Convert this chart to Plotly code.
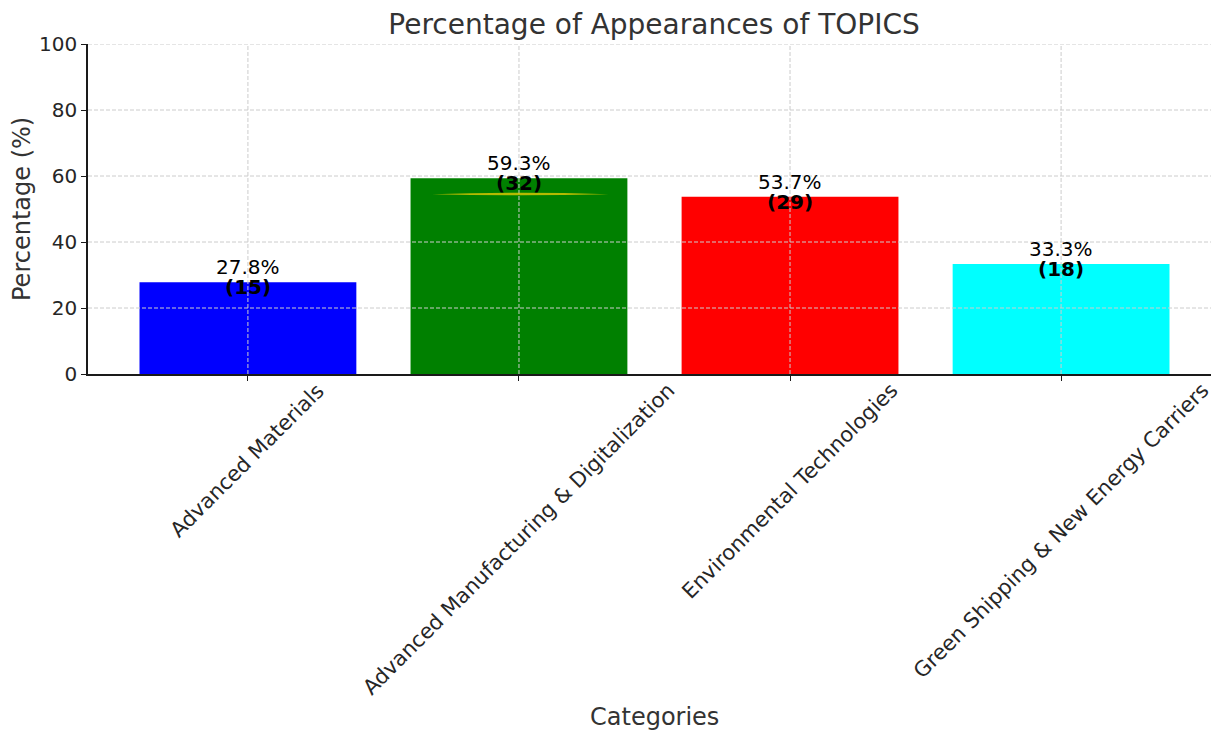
import plotly.graph_objects as go

categories = ["Advanced Materials", "Advanced Manufacturing & Digitalization",
              "Environmental Technologies", "Green Shipping & New Energy Carriers"]
percentages = [27.8, 59.3, 53.7, 33.3]
counts = [15, 32, 29, 18]
colors = ["#0000ff", "#008000", "#ff0000", "#00ffff"]
y_ticks = [0, 20, 40, 60, 80, 100]

FONT = "DejaVu Sans"
TXT = "#262626"
GRID = "#cccccc"

x_idx = list(range(len(categories)))

fig = go.Figure()
fig.add_trace(go.Bar(x=x_idx, y=percentages, width=0.8,
                     marker=dict(color=colors, line=dict(width=0)),
                     hoverinfo="skip", showlegend=False))

shapes = []
# grid lines drawn above bars (like the reference)
for t in y_ticks[1:]:
    shapes.append(dict(type="line", xref="paper", yref="y", x0=0, x1=1, y0=t, y1=t,
                       line=dict(color=GRID, width=1, dash="4px,2px"), layer="above"))
for i in x_idx:
    shapes.append(dict(type="line", xref="x", yref="paper", x0=i, x1=i, y0=0, y1=1,
                       line=dict(color=GRID, width=1, dash="4px,2px"), layer="above"))
# small yellow highlight artefact on the green bar
shapes.append(dict(type="path", xref="x", yref="y",
                   path="M 0.68 54.5 Q 1.0 55.4 1.33 54.5 Q 1.0 53.8 0.68 54.5 Z",
                   fillcolor="rgba(225,200,0,0.8)", line=dict(width=0), layer="above"))

annotations = []
for i, (p, c) in enumerate(zip(percentages, counts)):
    annotations.append(dict(x=i, y=p, xref="x", yref="y", text=f"{p}%", showarrow=False,
                            yshift=15, yanchor="middle",
                            font=dict(family=FONT, size=20, color="black")))
    annotations.append(dict(x=i, y=p, xref="x", yref="y", text=f"<b>({c})</b>", showarrow=False,
                            yshift=-5, yanchor="middle",
                            font=dict(family=FONT, size=20, color="black")))
# rotated category labels, centred on the tick (matplotlib style)
for i, cat in enumerate(categories):
    annotations.append(dict(x=i, y=0, xref="x", yref="paper", text=cat, showarrow=False,
                            textangle=-45, xanchor="center", yanchor="top", yshift=-2,
                            font=dict(family=FONT, size=21, color=TXT)))
annotations.append(dict(x=0.5, y=0, xref="paper", yref="paper", text="Categories",
                        showarrow=False, xanchor="center", yanchor="middle", yshift=-343,
                        font=dict(family=FONT, size=24, color="#333333")))
annotations.append(dict(x=0, y=0.5, xref="paper", yref="paper", text="Percentage (%)",
                        showarrow=False, xanchor="center", yanchor="middle", xshift=-66,
                        textangle=-90, font=dict(family=FONT, size=24, color="#333333")))

fig.update_layout(
    width=1219, height=733,
    margin=dict(l=80, r=6, t=36, b=367, autoexpand=False),
    paper_bgcolor="white", plot_bgcolor="white",
    font=dict(family=FONT, size=20, color=TXT),
    title=dict(text="Percentage of Appearances of TOPICS", x=0.530, xanchor="center",
               y=0.978, yanchor="middle", font=dict(family=FONT, size=28, color="#333333")),
    shapes=shapes, annotations=annotations,
    xaxis=dict(range=[-0.59, 3.59], tickmode="array", tickvals=x_idx, showticklabels=False,
               showgrid=False, zeroline=False, showline=True, automargin=False,
               linecolor="#1a1a1a", linewidth=1.5, ticks="outside", ticklen=5,
               tickcolor="#1a1a1a"),
    yaxis=dict(range=[0, 100], tickmode="array", tickvals=y_ticks, showgrid=False,
               zeroline=False, showline=True, automargin=False, linecolor="#1a1a1a",
               linewidth=1.5, ticks="outside", ticklen=5, tickcolor="#1a1a1a",
               tickfont=dict(family=FONT, size=20, color=TXT)),
)

fig.write_html("out.html")
